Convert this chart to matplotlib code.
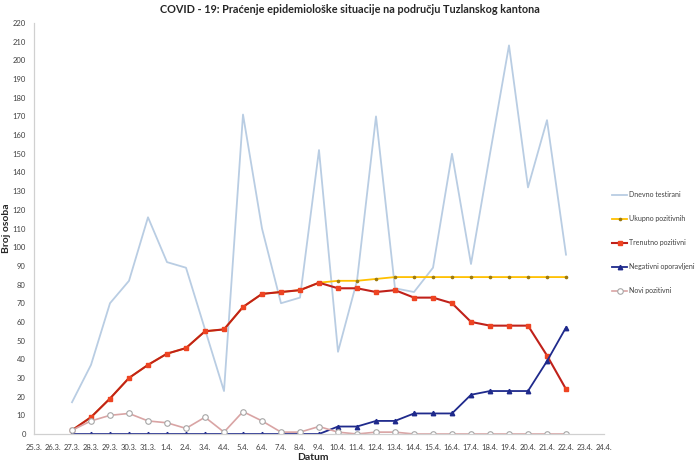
import matplotlib
matplotlib.use('Agg')
import matplotlib.pyplot as plt

plt.rcParams['font.family'] = ['Lato', 'DejaVu Sans']

dates = ['25.3.', '26.3.', '27.3.', '28.3.', '29.3.', '30.3.', '31.3.', '1.4.', '2.4.', '3.4.',
         '4.4.', '5.4.', '6.4.', '7.4.', '8.4.', '9.4.', '10.4.', '11.4.', '12.4.', '13.4.',
         '14.4.', '15.4.', '16.4.', '17.4.', '18.4.', '19.4.', '20.4.', '21.4.', '22.4.', '23.4.', '24.4.']
first = 2  # data starts on 27.3.

dnevno_testirani = [17, 37, 70, 82, 116, 92, 89, 56, 23, 171, 110, 70, 73, 152,
                    44, 82, 170, 78, 76, 89, 150, 91, 150, 208, 132, 168, 96]
ukupno_pozitivnih = [2, 9, 19, 30, 37, 43, 46, 55, 56, 68, 75, 76, 77, 81,
                     82, 82, 83, 84, 84, 84, 84, 84, 84, 84, 84, 84, 84]
trenutno_pozitivni = [2, 9, 19, 30, 37, 43, 46, 55, 56, 68, 75, 76, 77, 81,
                      78, 78, 76, 77, 73, 73, 70, 60, 58, 58, 58, 42, 24]
negativni_oporavljeni = [0, 0, 0, 0, 0, 0, 0, 0, 0, 0, 0, 0, 0, 0,
                         4, 4, 7, 7, 11, 11, 11, 21, 23, 23, 23, 39, 57]
novi_pozitivni = [2, 7, 10, 11, 7, 6, 3, 9, 1, 12, 7, 1, 1, 4,
                  1, 0, 1, 1, 0, 0, 0, 0, 0, 0, 0, 0, 0]

x = list(range(first, first + len(dnevno_testirani)))

fig = plt.figure(figsize=(7, 4.66), dpi=100)
ax = fig.add_axes([34/700, 32/466, 570/700, 411/466])

ax.plot(x, dnevno_testirani, color='#B9CDE3', lw=1.3, label='Dnevno testirani')
ax.plot(x, ukupno_pozitivnih, color='#FFC000', lw=1.3, marker='o', ms=1.6,
        mfc='#9C7A10', mec='#9C7A10', label='Ukupno pozitivnih')
ax.plot(x, trenutno_pozitivni, color='#C0211A', lw=1.5, marker='s', ms=3.4,
        mfc='#EE4422', mec='#EE4422', label='Trenutno pozitivni')
ax.plot(x, negativni_oporavljeni, color='#1F2A8C', lw=1.3, marker='^', ms=3.2,
        mfc='#1F2A8C', mec='#1F2A8C', label='Negativni oporavljeni')
ax.plot(x, novi_pozitivni, color='#D9A4A4', lw=1.2, marker='o', ms=4,
        mfc='white', mec='#A6A6A6', mew=0.8, label='Novi pozitivni')

ax.set_xlim(0, len(dates) - 1)
ax.set_ylim(0, 220)
ax.set_xticks(range(len(dates)))
ax.set_xticklabels(dates)
ax.set_yticks(range(0, 221, 10))
ax.tick_params(axis='both', labelsize=5.5, labelcolor='#404040', length=0, pad=7)
ax.tick_params(axis='y', pad=6)
for s in ['top', 'right']:
    ax.spines[s].set_visible(False)
for s in ['left', 'bottom']:
    ax.spines[s].set_color('#D0D0D0')
    ax.spines[s].set_linewidth(0.9)

ax.set_ylabel('Broj osoba', fontsize=7.5, fontweight='bold', color='#262626')
ax.yaxis.set_label_coords(-23/570, 0.5)
ax.set_xlabel('Datum', fontsize=7.5, fontweight='bold', color='#262626')
ax.xaxis.set_label_coords((313-34)/570, -19/411)

fig.suptitle('COVID - 19: Praćenje epidemiološke situacije na području Tuzlanskog kantona',
             fontsize=7.8, fontweight='bold', color='#262626', x=0.5, y=1-4/466, va='top')

fig.legend(loc='upper left', bbox_to_anchor=(612/700, 1-191/466), frameon=False,
           fontsize=5, labelcolor='#404040', handlelength=2.2, handletextpad=0.2,
           labelspacing=2.45, borderaxespad=0, borderpad=0)

fig.savefig('out.png', dpi=100)
